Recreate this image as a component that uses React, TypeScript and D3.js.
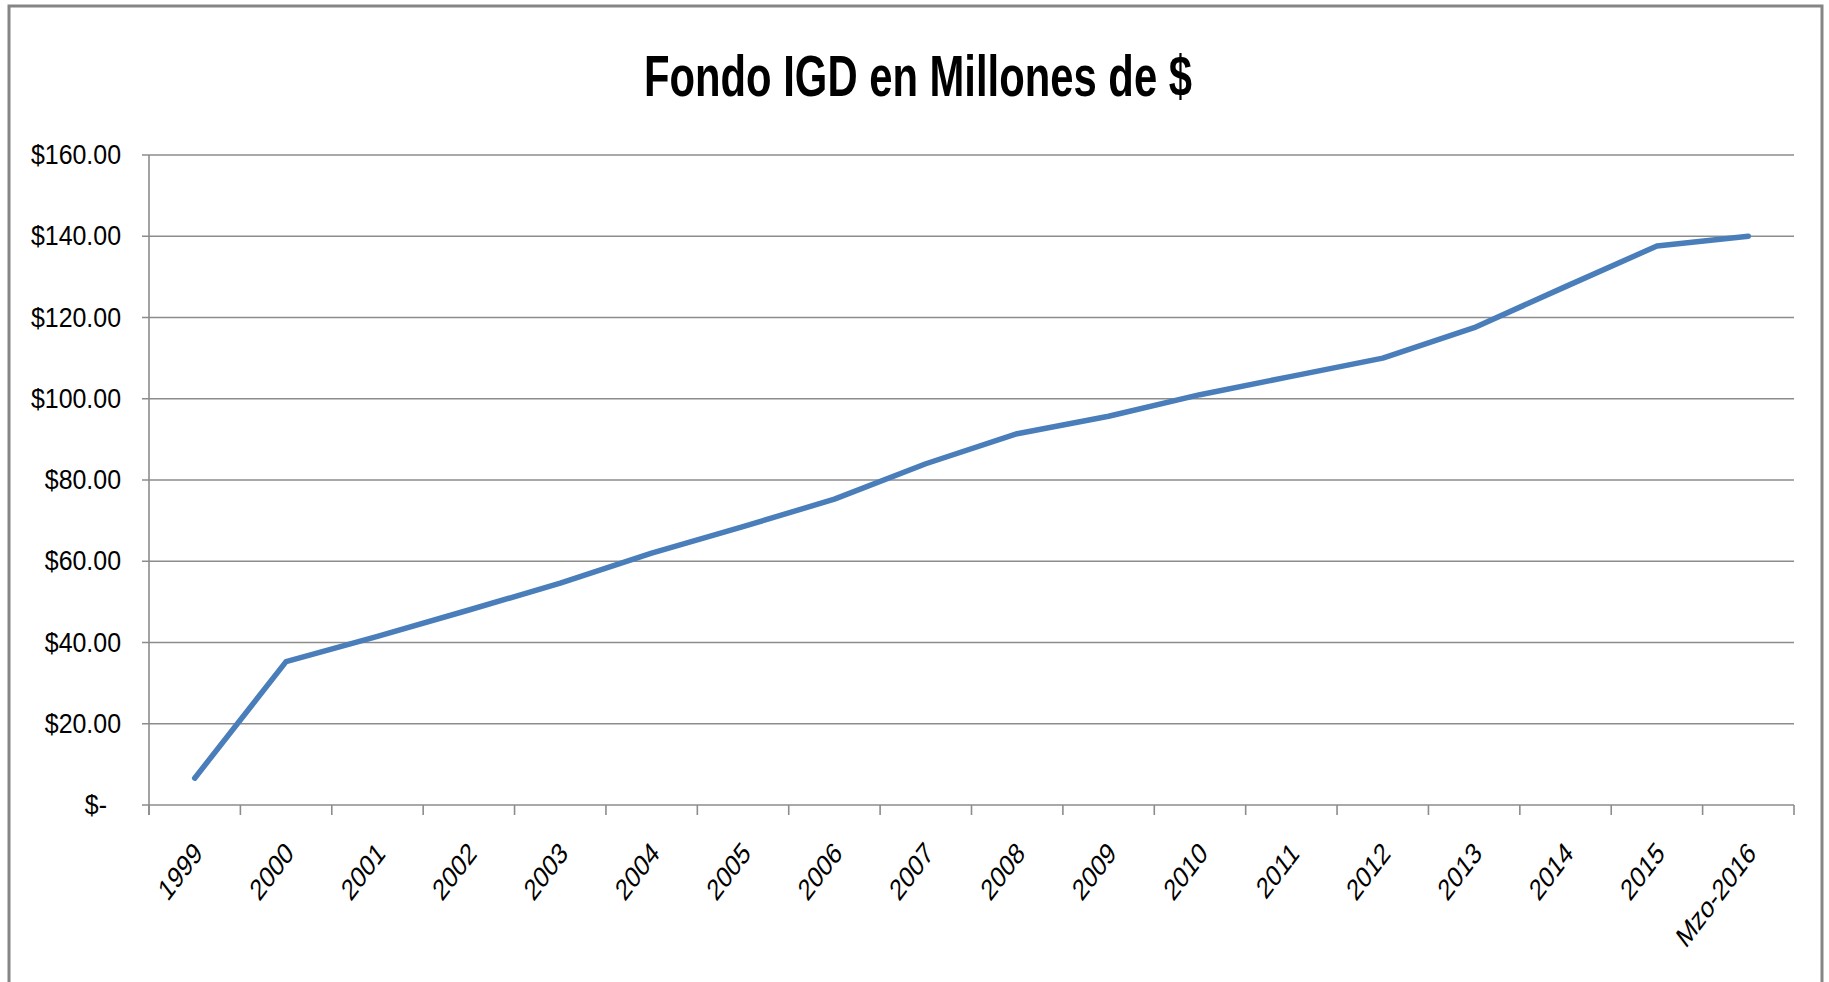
import React from 'react';
import * as d3 from 'd3';

// Fondo IGD, millones de $
const categories = [
  '1999', '2000', '2001', '2002', '2003', '2004', '2005', '2006', '2007',
  '2008', '2009', '2010', '2011', '2012', '2013', '2014', '2015', 'Mzo-2016',
];
const fondoValues = [
  6.6, 35.3, 41.5, 48, 54.6, 62, 68.5, 75.3, 84,
  91.4, 95.7, 101, 105.5, 110, 117.5, 127.6, 137.6, 140,
];
const yTicks = [0, 20, 40, 60, 80, 100, 120, 140, 160];
const title = 'Fondo IGD en Millones de $';

const WIDTH = 1829;
const HEIGHT = 982;
const margin = { left: 149, right: 35, top: 155, bottom: 177 };

const gridColor = '#8c8c8c';
const lineColor = '#4a7ebb';
const textFont = '"Liberation Sans", Arial, sans-serif';

function formatMoney(v: number): string {
  if (v === 0) return '$-';
  return '$' + d3.format('.2f')(v);
}

export default function App(): React.ReactElement {
  const plotRight = WIDTH - margin.right;
  const plotBottom = HEIGHT - margin.bottom;

  const x = d3.scaleBand<string>()
    .domain(categories)
    .range([margin.left, plotRight])
    .paddingInner(0)
    .paddingOuter(0);

  const y = d3.scaleLinear()
    .domain([0, 160])
    .range([plotBottom, margin.top]);

  const line = d3.line<number>()
    .x((_, i) => (x(categories[i]) ?? 0) + x.bandwidth() / 2)
    .y((d) => y(d));

  const boundaries = categories.map((c) => x(c) ?? 0).concat([plotRight]);

  return (
    <svg
      width={WIDTH}
      height={HEIGHT}
      style={{ position: 'absolute', left: 0, top: 0, background: '#fff' }}
    >
      {/* chart area frame */}
      <rect x={9} y={6} width={1813} height={HEIGHT + 20} fill="#fff" stroke="#858585" strokeWidth={3} />

      <text
        x={918}
        y={96}
        textAnchor="middle"
        fontFamily={textFont}
        fontWeight={700}
        fontSize={58}
        textLength={548}
        lengthAdjust="spacingAndGlyphs"
        fill="#000"
      >
        {title}
      </text>

      {/* gridlines and y ticks */}
      {yTicks.map((t) => (
        <g key={t}>
          <line x1={margin.left - 7} x2={plotRight} y1={y(t)} y2={y(t)} stroke={gridColor} strokeWidth={1.6} />
          <text
            transform={`translate(${t === 0 ? 107 : 121},${y(t) + 9}) scale(0.89,1)`}
            textAnchor="end"
            fontFamily={textFont}
            fontSize={28}
            fill="#000"
          >
            {formatMoney(t)}
          </text>
        </g>
      ))}

      {/* axes */}
      <line x1={margin.left} x2={margin.left} y1={margin.top} y2={plotBottom + 10} stroke={gridColor} strokeWidth={1.6} />
      {boundaries.map((bx, i) => (
        <line key={i} x1={bx} x2={bx} y1={plotBottom} y2={plotBottom + 10} stroke={gridColor} strokeWidth={1.6} />
      ))}

      {categories.map((c) => (
        <text
          key={c}
          transform={`translate(${(x(c) ?? 0) + x.bandwidth() / 2 + 9},${plotBottom + 50}) scale(0.76,1) rotate(-45)`}
          textAnchor="end"
          fontFamily={textFont}
          fontSize={30}
          fill="#000"
        >
          {c}
        </text>
      ))}

      <path
        d={line(fondoValues) ?? ''}
        fill="none"
        stroke={lineColor}
        strokeWidth={5.5}
        strokeLinejoin="round"
        strokeLinecap="round"
      />
    </svg>
  );
}
